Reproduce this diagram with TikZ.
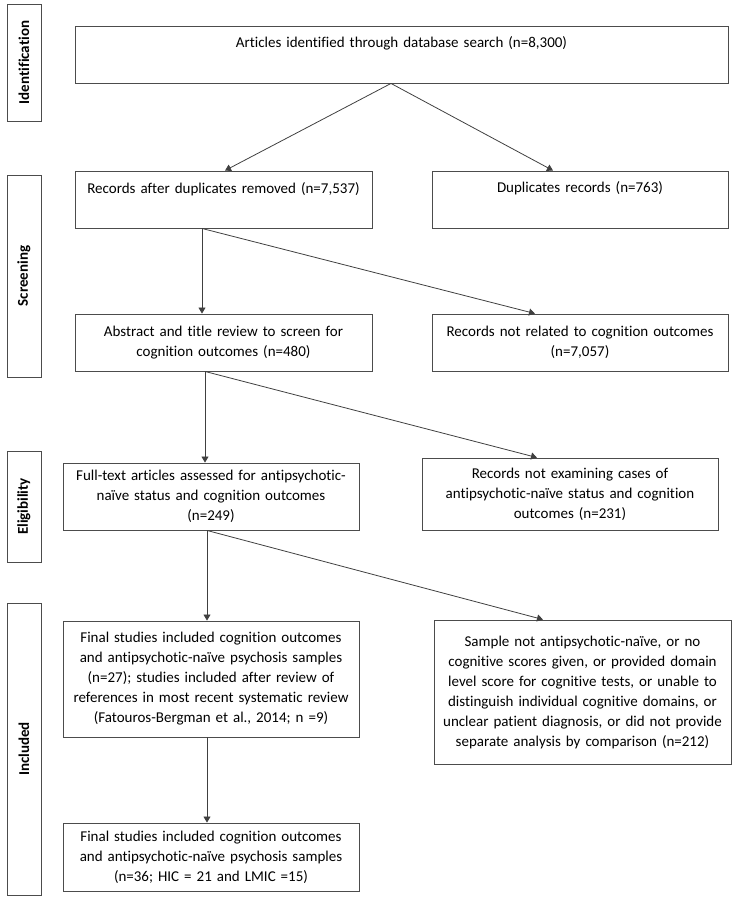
\documentclass[tikz,border=0pt]{standalone}
\usepackage{fontspec}
\setmainfont[Ligatures=NoCommon]{Carlito}
\usetikzlibrary{arrows.meta}
\newcommand{\boxfont}{\fontsize{15pt}{20pt}\selectfont}
\begin{document}
\begin{tikzpicture}[x=1pt,y=-1pt,
  box/.style={draw=black!70, line width=0.9pt, inner sep=0pt, align=center, text width=294pt, font=\boxfont},
  side/.style={draw=black!70, line width=0.9pt, inner sep=0pt, rotate=90, font=\fontsize{15pt}{16pt}\selectfont\bfseries},
  conn/.style={draw=black!75, line width=0.8pt, -{Triangle[length=6pt,width=7pt]}}]
\useasboundingbox (0,0) rectangle (737,900);
% side labels (minimum width is along the rotated text)
\node[side, minimum width=117pt, minimum height=34pt] (idl) at (24,62.5) {Identification};
\node[side, minimum width=202pt, minimum height=34pt] (scl) at (24,276) {Screening};
\node[side, minimum width=111pt, minimum height=34pt] (ell) at (24,506.5) {Eligibility};
\node[side, minimum width=292pt, minimum height=34pt] (inl) at (24,749) {Included};
% boxes
\node[box, minimum width=653pt, minimum height=57pt, text width=640pt] (top) at (401.5,54.5) {Articles identified through database search (n=8,300)\\[-2pt]\strut};
\node[box, minimum width=297pt, minimum height=57pt] (rec) at (223.5,199.5) {Records after duplicates removed (n=7,537)\\[-3pt]\strut};
\node[box, minimum width=296pt, minimum height=57pt] (dup) at (580,199.5) {Duplicates records (n=763)\\[-1pt]\strut};
\node[box, minimum width=297pt, minimum height=57pt] (abs) at (223.5,342.5) {Abstract and title review to screen for\\cognition outcomes (n=480)};
\node[box, minimum width=296pt, minimum height=57pt] (nrel) at (580,342.5) {Records not related to cognition outcomes\\(n=7,057)};
\node[box, minimum width=296pt, minimum height=67pt] (full) at (211,496.5) {Full-text articles assessed for antipsychotic-\\naïve status and cognition outcomes\\(n=249)};
\node[box, minimum width=296pt, minimum height=72pt] (nex) at (570,494) {Records not examining cases of\\antipsychotic-naïve status and cognition\\outcomes (n=231)};
\node[box, minimum width=296pt, minimum height=116pt] (fin1) at (211,679) {Final studies included cognition outcomes\\and antipsychotic-naïve psychosis samples\\(n=27); studies included after review of\\references in most recent systematic review\\(Fatouros-Bergman et al., 2014; n =9)};
\node[box, minimum width=297pt, minimum height=144pt] (samp) at (582.5,692) {Sample not antipsychotic-naïve, or no\\cognitive scores given, or provided domain\\level score for cognitive tests, or unable to\\distinguish individual cognitive domains, or\\unclear patient diagnosis, or did not provide\\separate analysis by comparison (n=212)};
\node[box, minimum width=296pt, minimum height=68pt] (fin2) at (211,857) {Final studies included cognition outcomes\\and antipsychotic-naïve psychosis samples\\(n=36; HIC = 21 and LMIC =15)};
% connectors
\draw[conn] ([xshift=-10.5pt]top.south) -- ([xshift=1.5pt]rec.north);
\draw[conn] ([xshift=-10.5pt]top.south) -- ([xshift=-27pt]dup.north);
\draw[conn] ([xshift=-21.5pt]rec.south) -- ([xshift=-21.5pt]abs.north);
\draw[conn] ([xshift=-21.5pt]rec.south) -- ([xshift=-45pt]nrel.north);
\draw[conn] ([xshift=-18.5pt]abs.south) -- ([xshift=-6pt]full.north);
\draw[conn] ([xshift=-18.5pt]abs.south) -- ([xshift=-33pt]nex.north);
\draw[conn] ([xshift=-4pt]full.south) -- ([xshift=-4pt]fin1.north);
\draw[conn] ([xshift=-4pt]full.south) -- ([xshift=-39.5pt]samp.north);
\draw[conn] ([xshift=-4pt]fin1.south) -- ([xshift=-4pt]fin2.north);
\end{tikzpicture}
\end{document}
